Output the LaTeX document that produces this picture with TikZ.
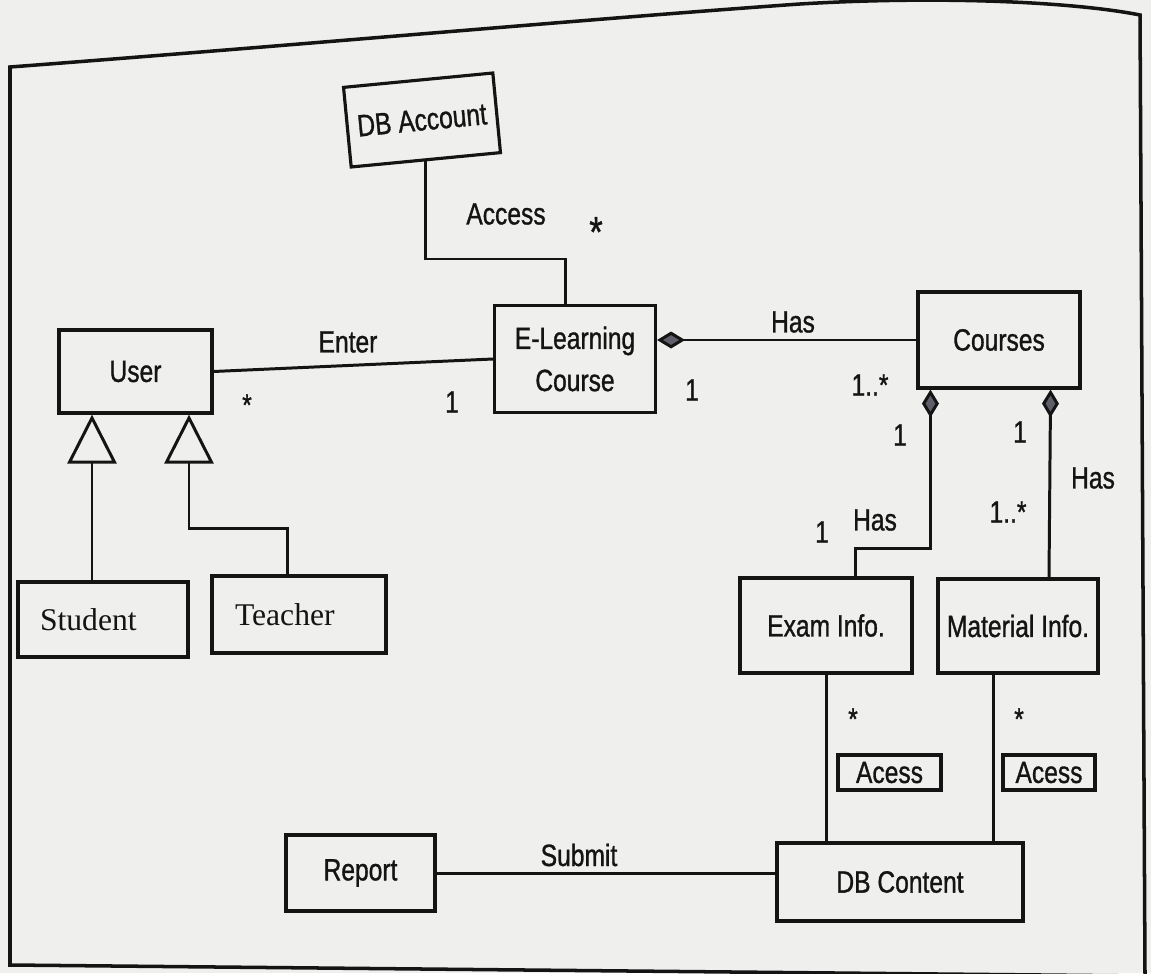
\documentclass[tikz,border=0pt]{standalone}
\usepackage{fontspec}
\newfontfamily\scanfont[FakeStretch=0.8,FakeBold=1]{Liberation Sans}
\newfontfamily\typefont{Liberation Serif}
\usetikzlibrary{arrows.meta,calc}
\definecolor{PaperClr}{RGB}{239,239,237}
\definecolor{InkClr}{RGB}{20,20,20}
\definecolor{DiamondClr}{RGB}{95,95,105}

\begin{document}
\begin{tikzpicture}[x=0.02cm,y=-0.02cm,
  cls/.style={draw=InkClr,line width=1.8pt,inner sep=0pt,align=center,text=InkClr,font=\scanfont\fontsize{17.5}{24}\selectfont},
  rom/.style={cls,align=left,font=\typefont\fontsize{18}{22}\selectfont},
  lbl/.style={inner sep=0pt,text=InkClr,font=\scanfont\fontsize{17.5}{20}\selectfont},
  lnk/.style={draw=InkClr,line width=1.7pt},
  comp/.style={lnk,{Diamond[length=0.56cm,width=0.34cm,fill=DiamondClr]}-},
  inh/.style={lnk,-{Triangle[open,length=0.98cm,width=0.98cm]}}]

\fill[PaperClr] (0,0) rectangle (1151,973);
\useasboundingbox (0,0) rectangle (1151,973);

% page frame
\draw[InkClr,line width=2pt] (1145,976) -- (10,965) -- (10,67) .. controls (300,45) and (600,18) .. (800,4) .. controls (950,-5) and (1080,3) .. (1140,15) -- cycle;

\node[cls,minimum width=3cm,minimum height=1.6cm,rotate=5.5] (DBAcc) at (422,120) {DB Account};
\node[cls,minimum width=3.22cm,minimum height=2.14cm] (ELC) at (575,359) {E-Learning\\Course};
\node[cls,minimum width=3.06cm,minimum height=1.66cm] (User) at (135.5,371.5) {User};
\node[rom,inner xsep=0.44cm,text width=2.52cm,minimum height=1.5cm] (Student) at (103,619.5) {Student};
\node[rom,inner xsep=0.46cm,text width=2.56cm,minimum height=1.54cm] (Teacher) at (299,614.5) {Teacher};
\node[cls,minimum width=3.24cm,minimum height=1.92cm] (Courses) at (999,340) {Courses};
\node[cls,minimum width=3.44cm,minimum height=1.9cm] (Exam) at (826,625.5) {Exam Info.};
\node[cls,minimum width=3.2cm,minimum height=1.88cm] (Material) at (1018,626) {Material Info.};
\node[cls,minimum width=2.06cm,minimum height=0.7cm] (AcessA) at (889.5,772.5) {Acess};
\node[cls,minimum width=1.84cm,minimum height=0.7cm] (AcessB) at (1049,772.5) {Acess};
\node[cls,minimum width=4.92cm,minimum height=1.56cm] (DBC) at (900,882) {DB Content};
\node[cls,minimum width=2.98cm,minimum height=1.52cm] (Report) at (360.5,873) {Report};

\coordinate (AccBend) at (565,259);
\draw[lnk] (DBAcc.south) |- (AccBend) -- (AccBend |- ELC.north);
\draw[lnk] (User.east) -- (ELC.west);
\draw[comp] (ELC.east |- Courses.west) -- (Courses.west);
\draw[comp] ([xshift=0.28cm]Courses.south west) -- ++(0,159) -| ([xshift=0.58cm]Exam.north);
\draw[comp] ([xshift=-0.62cm]Courses.south east) -- ([xshift=0.62cm]Material.north);
\coordinate (MatFoot) at ([xshift=-0.5cm]Material.south);
\draw[lnk] (Exam.south) -- (Exam.south |- DBC.north);
\draw[lnk] (MatFoot) -- (MatFoot |- DBC.north);
\draw[lnk] (Report.east) -- (Report.east -| DBC.west);

\coordinate (StuTop) at ([xshift=-0.22cm]Student.north);
\draw[inh] (StuTop) -- (StuTop |- User.south);
\draw[inh] ([xshift=-0.24cm]Teacher.north) -- ++(0,-46) -| ([xshift=1.07cm]User.south);

\node[lbl] (AccessLbl) at (506,214) {Access};
\node[lbl,scale=1.4] (AccessMul) at (596,232) {*};
\node[lbl] (EnterLbl) at (348,342) {Enter};
\node[lbl] (EnterMulA) at (247,405) {*};
\node[lbl] (EnterMulB) at (452,402) {1};
\node[lbl] (HasLbl) at (793,322) {Has};
\node[lbl] (HasMulA) at (692,390) {1};
\node[lbl] (HasMulB) at (870,385) {1..*};
\node[lbl] (ExamMulA) at (900,435) {1};
\node[lbl] (ExamLbl) at (875,520) {Has};
\node[lbl] (ExamMulB) at (822,532) {1};
\node[lbl] (MatMulA) at (1020,432) {1};
\node[lbl] (MatLbl) at (1093,478) {Has};
\node[lbl] (MatMulB) at (1008,512) {1..*};
\node[lbl] (AcessMulA) at (853,719) {*};
\node[lbl] (AcessMulB) at (1019,719) {*};
\node[lbl] (SubmitLbl) at (579,855) {Submit};

\end{tikzpicture}
\end{document}
